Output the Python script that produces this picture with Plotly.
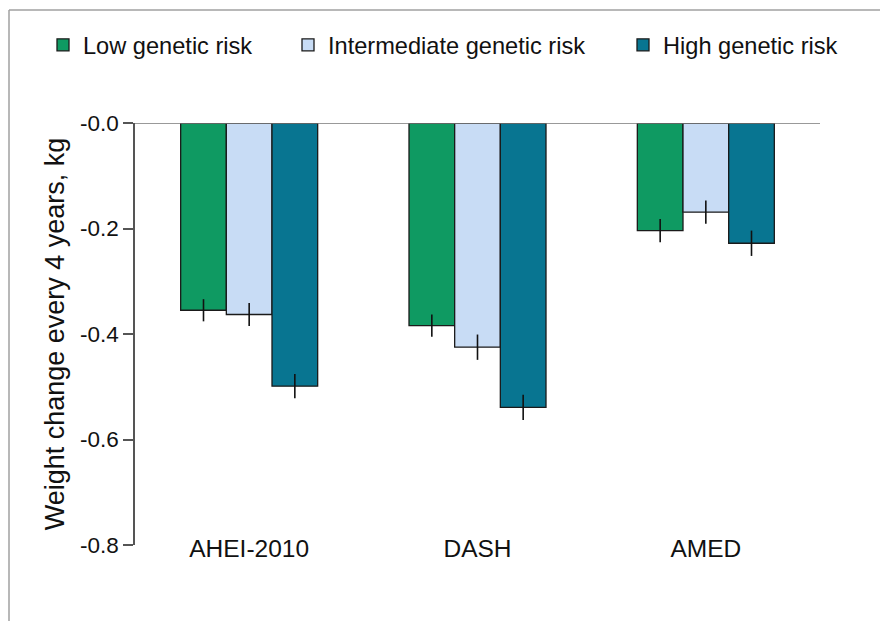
import plotly.graph_objects as go

# Diet scores and mean weight change per genetic-risk group
categories = ["AHEI-2010", "DASH", "AMED"]
groups = ["Low genetic risk", "Intermediate genetic risk", "High genetic risk"]
low_vals = [-0.355, -0.384, -0.204]
mid_vals = [-0.363, -0.425, -0.169]
high_vals = [-0.499, -0.539, -0.228]
low_err = [0.021, 0.021, 0.022]
mid_err = [0.022, 0.024, 0.022]
high_err = [0.023, 0.024, 0.024]

y_ticks = [0.0, -0.2, -0.4, -0.6, -0.8]
y_tick_labels = ["-0.0", "-0.2", "-0.4", "-0.6", "-0.8"]

colors = ["#0f9a62", "#c8dcf5", "#087591"]
FONT = "Liberation Sans, Arial, sans-serif"

fig = go.Figure()
series = [(low_vals, low_err), (mid_vals, mid_err), (high_vals, high_err)]
legend_ids = ["legend", "legend2", "legend3"]
for name, (vals, errs), col, lg in zip(groups, series, colors, legend_ids):
    fig.add_trace(go.Bar(
        name=name,
        x=categories,
        y=vals,
        marker=dict(color=col, line=dict(color="#1a1a1a", width=1.3)),
        error_y=dict(type="data", array=errs, symmetric=True,
                     color="#111111", thickness=1.6, width=0),
        legend=lg,
        showlegend=True,
    ))

legend_style = dict(
    orientation="h", yanchor="middle", xanchor="left",
    yref="container", xref="container",
    font=dict(family=FONT, size=23.6, color="#111111"),
    bgcolor="rgba(0,0,0,0)",
)
legend_x = [43, 288, 623]
legend_y = 1 - 45 / 621
fig.update_layout(
    showlegend=True,
    legend=dict(legend_style, x=legend_x[0] / 880, y=legend_y),
    legend2=dict(legend_style, x=legend_x[1] / 880, y=legend_y),
    legend3=dict(legend_style, x=legend_x[2] / 880, y=legend_y),
)

fig.update_layout(
    width=880, height=621,
    margin=dict(l=135, r=60, t=123, b=76),
    paper_bgcolor="white", plot_bgcolor="white",
    barmode="group", bargap=0.4, bargroupgap=0,
    font=dict(family=FONT, color="#111111"),
    xaxis=dict(
        type="category", range=[-0.5, 2.5],
        showline=False, showgrid=False, zeroline=False, ticks="",
        tickfont=dict(family=FONT, size=24.5, color="#111111"),
        ticklabelstandoff=-14,
    ),
    yaxis=dict(
        range=[-0.8, 0], tickvals=y_ticks, ticktext=y_tick_labels,
        showline=True, linecolor="#555555", linewidth=1.5,
        ticks="outside", ticklen=10, tickwidth=1.5, tickcolor="#555555",
        showgrid=False, zeroline=False,
        tickfont=dict(family=FONT, size=22.5, color="#111111"),
        title=dict(text="Weight change every 4 years, kg",
                   font=dict(family=FONT, size=27, color="#111111"),
                   standoff=8),
    ),
)

# Zero reference line across the top of the plot
fig.add_shape(type="line", xref="paper", yref="y", x0=0, x1=1, y0=0, y1=0,
              line=dict(color="#777777", width=1.5), layer="above")

# Frame edges along the top and left of the figure
fig.add_shape(type="line", xref="paper", yref="paper",
              x0=-126 / 685, x1=1.1, y0=1 + 113 / 422, y1=1 + 113 / 422,
              line=dict(color="#a0a0a0", width=1.5))
fig.add_shape(type="line", xref="paper", yref="paper",
              x0=-126 / 685, x1=-126 / 685, y0=1 + 113 / 422, y1=-0.3,
              line=dict(color="#a0a0a0", width=1.5))

fig.write_html("out.html")
